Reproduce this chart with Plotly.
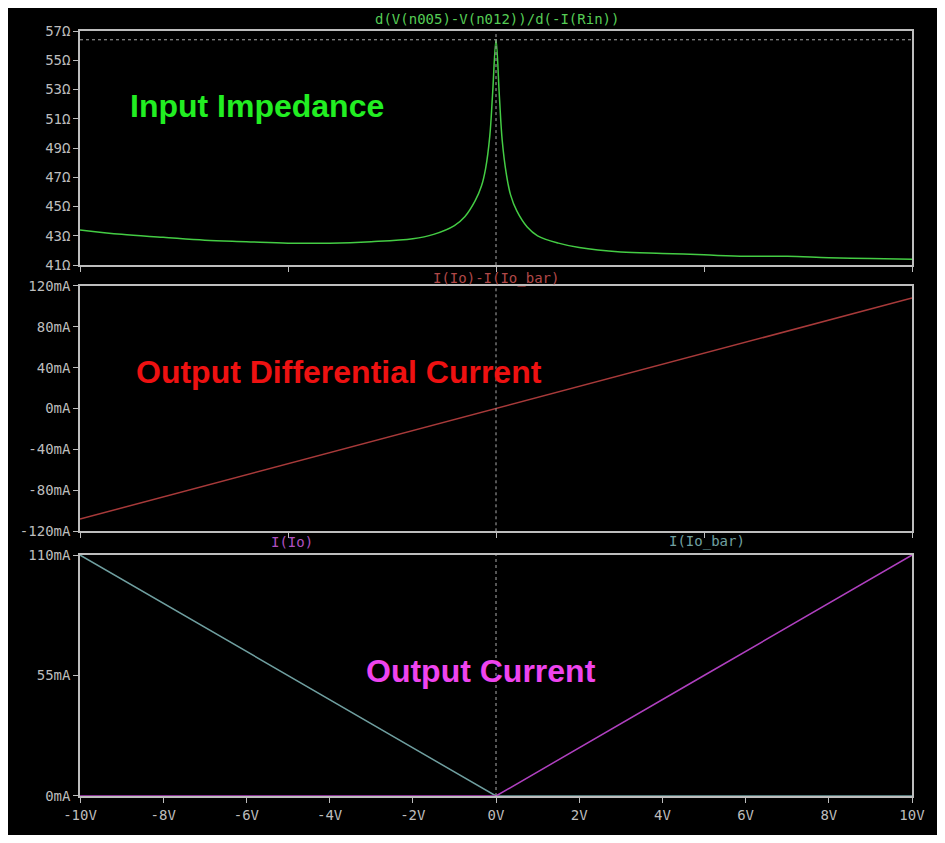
import plotly.graph_objects as go
from plotly.subplots import make_subplots

# input impedance sweep
v_z = [-10, -9, -8, -7, -6, -5, -4, -3, -2, -1.5, -1, -0.75, -0.5, -0.35, -0.25, -0.15, -0.08, 0,
       0.08, 0.15, 0.25, 0.35, 0.5, 0.75, 1, 1.5, 2, 3, 4, 5, 6, 7, 8, 9, 10]
z_in = [43.4, 43.1, 42.9, 42.7, 42.6, 42.5, 42.5, 42.6, 42.8, 43.1, 43.7, 44.3, 45.4, 46.4, 47.6, 49.8, 52.8, 56.4,
        52.6, 49.5, 47.2, 45.8, 44.7, 43.6, 43.0, 42.5, 42.2, 41.9, 41.8, 41.7, 41.6, 41.6, 41.5, 41.45, 41.4]

v_i = [-10, -5, 0, 5, 10]
i_diff = [-108, -54, 0, 54, 108]
i_io = [0, 0, 0, 55, 110]
i_iobar = [110, 55, 0, 0, 0]

fig = make_subplots(rows=3, cols=1, shared_xaxes=True, vertical_spacing=0.02)
fig.add_trace(go.Scatter(x=v_z, y=z_in, mode='lines', line=dict(color='#44cc44', width=1.5, shape='spline')), row=1, col=1)
fig.add_trace(go.Scatter(x=v_i, y=i_diff, mode='lines', line=dict(color='#a83a3a', width=1.5)), row=2, col=1)
fig.add_trace(go.Scatter(x=v_i, y=i_iobar, mode='lines', line=dict(color='#6f9fa0', width=1.5)), row=3, col=1)
fig.add_trace(go.Scatter(x=v_i, y=i_io, mode='lines', line=dict(color='#b040c0', width=1.5)), row=3, col=1)

mono = 'DejaVu Sans Mono'
grey = '#bdbdbd'
ax = dict(showline=True, linecolor=grey, linewidth=1.5, mirror=True, showgrid=False, zeroline=False,
          ticks='outside', ticklen=5, tickcolor=grey, tickfont=dict(family=mono, size=14, color=grey))

fig.update_layout(
    width=929, height=827, paper_bgcolor='black', plot_bgcolor='black', showlegend=False,
    margin=dict(l=67, r=19, t=23, b=27),
    xaxis=dict(domain=[0, 1], range=[-10, 10], **ax),
    xaxis2=dict(domain=[0, 1], range=[-10, 10], **ax),
    xaxis3=dict(domain=[0, 1], range=[-10, 10], tickvals=list(range(-10, 11, 2)),
                ticktext=[f'{t}V' for t in range(-10, 11, 2)], **ax),
    yaxis=dict(domain=[0.694, 1.0], range=[41, 57], tickvals=list(range(41, 58, 2)),
               ticktext=[f'{t}Ω' for t in range(41, 58, 2)], **ax),
    yaxis2=dict(domain=[0.346, 0.667], range=[-120, 120], tickvals=list(range(-120, 121, 40)),
                ticktext=[f'{t}mA' for t in range(-120, 121, 40)], **ax),
    yaxis3=dict(domain=[0, 0.315], range=[0, 110], tickvals=[0, 55, 110],
                ticktext=['0mA', '55mA', '110mA'], **ax),
)
fig.update_xaxes(showticklabels=False, row=1, col=1)
fig.update_xaxes(showticklabels=False, row=2, col=1)

# cursor lines
for yr in ['y', 'y2', 'y3']:
    fig.add_shape(type='line', xref='x', yref=yr + ' domain', x0=0, x1=0, y0=0, y1=1,
                  line=dict(color='#aaaaaa', width=1, dash='dot'))
fig.add_shape(type='line', xref='x domain', yref='y', x0=0, x1=1, y0=56.4, y1=56.4,
              line=dict(color='#aaaaaa', width=1, dash='dot'))

labels = [
    ('d(V(n005)-V(n012))/d(-I(Rin))', 498, 19, '#55cc55'),
    ('I(Io)-I(Io_bar)', 497, 282, '#b04848'),
    ('I(Io)', 290, 550, '#b050c0'),
    ('I(Io_bar)', 710, 550, '#70a0a0'),
]
for txt, xpx, ypx, col in labels:
    fig.add_annotation(text=txt, xref='paper', yref='paper', x=(xpx - 75) / 843, y=(808 - ypx) / 777,
                       xanchor='center', yanchor='middle',
                       showarrow=False, font=dict(family=mono, size=14, color=col))

titles = [
    ('Input Impedance', 254, 107, '#22ee22'),
    ('Output Differential Current', 337, 377, '#ee1111'),
    ('Output Current', 481, 681, '#ee44ee'),
]
for txt, xpx, ypx, col in titles:
    fig.add_annotation(text='<b>' + txt + '</b>', xref='paper', yref='paper', x=(xpx - 75) / 843,
                       y=(808 - ypx) / 777, xanchor='center', yanchor='middle', showarrow=False,
                       font=dict(family='Liberation Sans', size=32, color=col))

fig.write_html('out.html')
